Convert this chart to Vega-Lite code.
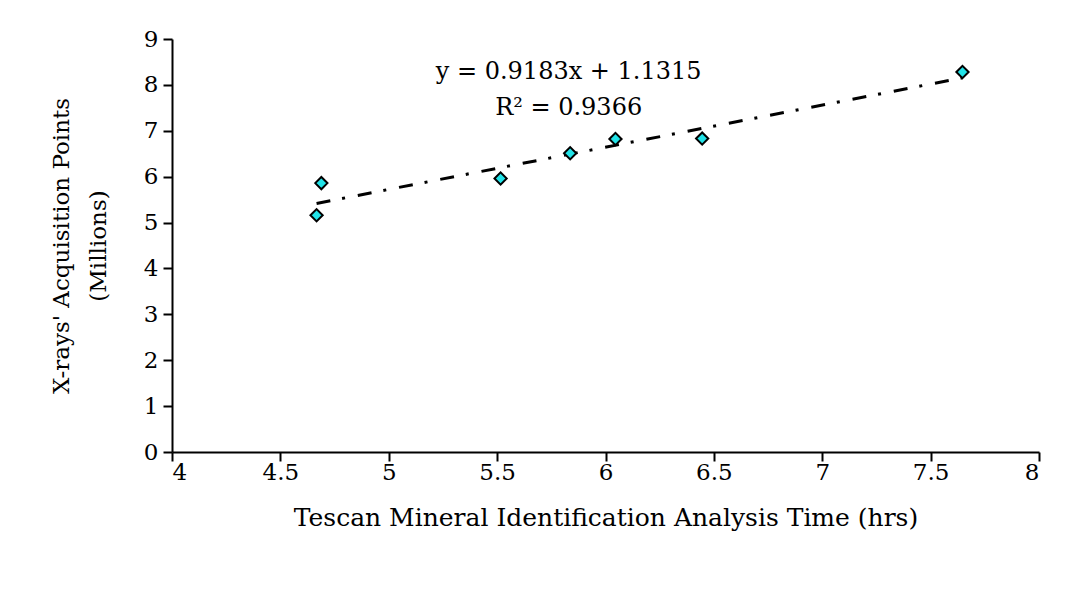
{
  "$schema": "https://vega.github.io/schema/vega-lite/v6.json",
  "width": 867,
  "height": 413,
  "autosize": {"type": "none"},
  "padding": {"left": 172, "top": 39, "right": 26, "bottom": 137},
  "background": "white",
  "config": {
    "view": {"stroke": null},
    "font": "DejaVu Serif",
    "axis": {
      "domainColor": "black", "domainWidth": 2, "tickColor": "black", "tickWidth": 2, "tickSize": 9,
      "grid": false, "labelFont": "DejaVu Serif", "labelFontSize": 23, "labelColor": "black",
      "titleFont": "DejaVu Serif", "titleFontSize": 22, "titleFontWeight": "normal", "titleColor": "black"
    }
  },
  "datasets": {
    "points": [
      {"time": 4.667, "xrays": 5.16},
      {"time": 4.689, "xrays": 5.86},
      {"time": 5.516, "xrays": 5.96},
      {"time": 5.837, "xrays": 6.51},
      {"time": 6.046, "xrays": 6.82},
      {"time": 6.446, "xrays": 6.83},
      {"time": 7.647, "xrays": 8.28}
    ],
    "trend": [
      {"time": 4.667, "xrays": 5.417},
      {"time": 7.647, "xrays": 8.154}
    ]
  },
  "layer": [
    {
      "data": {"name": "trend"},
      "mark": {"type": "line", "color": "black", "strokeWidth": 3, "strokeDash": [14, 12, 3, 13]},
      "encoding": {
        "x": {"field": "time", "type": "quantitative", "scale": {"domain": [4, 8], "nice": false},
              "axis": {"values": [4, 4.5, 5, 5.5, 6, 6.5, 7, 7.5, 8], "format": "~g", "title": "Tescan Mineral Identification Analysis Time (hrs)", "titleFontSize": 25, "labelPadding": 0, "titlePadding": 21}},
        "y": {"field": "xrays", "type": "quantitative", "scale": {"domain": [0, 9], "nice": false},
              "axis": {"values": [0, 1, 2, 3, 4, 5, 6, 7, 8, 9], "title": ["X-rays' Acquisition Points", "(Millions)"], "titleFontSize": 23, "titleLineHeight": 37, "labelPadding": 5, "titlePadding": 33}}
      }
    },
    {
      "data": {"name": "points"},
      "mark": {"type": "point", "shape": "diamond", "filled": true, "fill": "#22E3E8", "stroke": "black", "strokeWidth": 2, "size": 150, "opacity": 1},
      "encoding": {
        "x": {"field": "time", "type": "quantitative"},
        "y": {"field": "xrays", "type": "quantitative"}
      }
    },
    {
      "data": {"values": [{"label": "y = 0.9183x + 1.1315"}]},
      "mark": {"type": "text", "fontSize": 24, "color": "black", "align": "center", "baseline": "middle"},
      "encoding": {
        "text": {"field": "label"},
        "x": {"datum": 5.83, "type": "quantitative"},
        "y": {"datum": 8.29, "type": "quantitative"}
      }
    },
    {
      "data": {"values": [{"label": "R² = 0.9366"}]},
      "mark": {"type": "text", "fontSize": 24, "color": "black", "align": "center", "baseline": "middle"},
      "encoding": {
        "text": {"field": "label"},
        "x": {"datum": 5.83, "type": "quantitative"},
        "y": {"datum": 7.5, "type": "quantitative"}
      }
    }
  ]
}
